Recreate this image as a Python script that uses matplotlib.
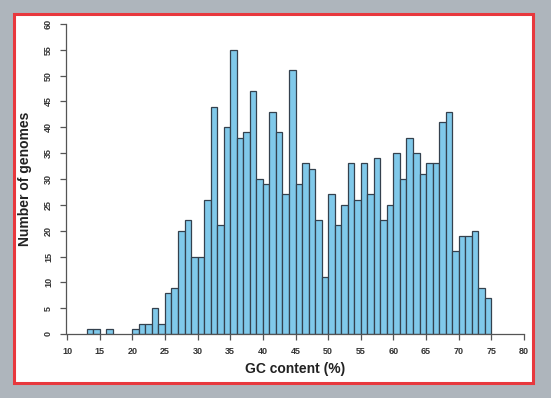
import matplotlib
matplotlib.use("Agg")
import matplotlib.pyplot as plt
from matplotlib.patches import Rectangle
import numpy as np

# histogram of GC content, one bin per percent
bin_left = list(range(13, 75))
genomes = [1, 1, 0, 1, 0, 0, 0, 1, 2, 2, 5, 2, 8, 9, 20, 22, 15, 15, 26, 44,
           21, 40, 55, 38, 39, 47, 30, 29, 43, 39, 27, 51, 29, 33, 32, 22, 11,
           27, 21, 25, 33, 26, 33, 27, 34, 22, 25, 35, 30, 38, 35, 31, 33, 33,
           41, 43, 16, 19, 19, 20, 9, 7]
xticks = list(range(10, 81, 5))
yticks = list(range(0, 61, 5))

plt.rcParams['font.family'] = ['Liberation Sans', 'DejaVu Sans']

W, H = 551, 398
fig = plt.figure(figsize=(W / 100, H / 100), dpi=100)
fig.patch.set_facecolor('#aeb5bc')

# white panel with red frame, in a background axes
bg = fig.add_axes([0, 0, 1, 1], zorder=0)
bg.set_axis_off()
bg.set_xlim(0, W)
bg.set_ylim(H, 0)
bg.add_patch(Rectangle((14, 14), 533 - 14, 383 - 14, facecolor='white',
                       edgecolor='#e8383d', linewidth=2.2))

ax = fig.add_axes([67 / W, 1 - 334 / H, (524 - 67) / W, (334 - 24) / H], zorder=2)
ax.set_facecolor('none')

# draw bars only where count > 0 (like R hist, empty bins show nothing)
lefts = np.array(bin_left)
vals = np.array(genomes)
mask = vals > 0
ax.bar(lefts[mask], vals[mask], width=1.0, align='edge', color='#80c9ea',
       edgecolor='#34414e', linewidth=0.9)

ax.set_xlim(10, 80)
ax.set_ylim(0, 60)
ax.set_xticks(xticks)
ax.set_yticks(yticks)
for s in ['top', 'right']:
    ax.spines[s].set_visible(False)
for s in ['left', 'bottom']:
    ax.spines[s].set_color('#555555')
    ax.spines[s].set_linewidth(0.9)
ax.spines['left'].set_position(('outward', 1))
ax.tick_params(axis='both', direction='out', length=4, width=0.9, color='#555555',
               labelsize=6.5, labelcolor='#333333', pad=5)
for lab in ax.get_xticklabels():
    lab.set_fontweight('bold')
for lab in ax.get_yticklabels():
    lab.set_fontweight('bold')
    lab.set_rotation(90)
    lab.set_va('center')

ax.set_xlabel('GC content (%)', fontsize=10, fontweight='bold', color='#222222', labelpad=5)
ax.set_ylabel('Number of genomes', fontsize=10, fontweight='bold', color='#222222', labelpad=9)

fig.savefig('out.png', dpi=100, facecolor=fig.get_facecolor())
